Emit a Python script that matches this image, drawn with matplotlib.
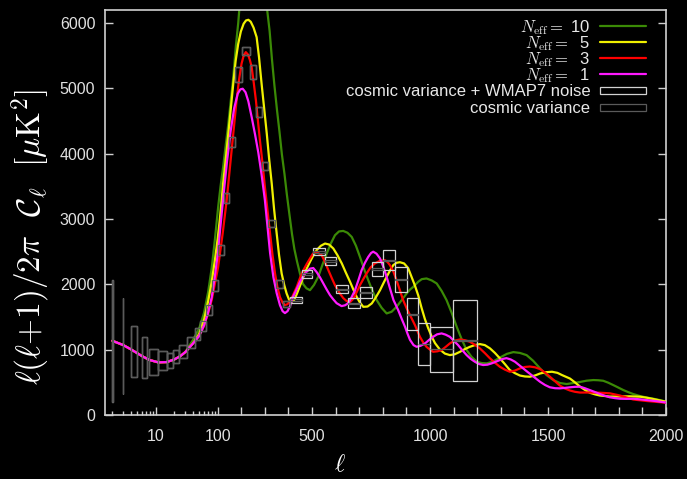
import numpy as np
import matplotlib
matplotlib.use("Agg")
import matplotlib.pyplot as plt
import matplotlib.patches as mpatches
from matplotlib.legend_handler import HandlerPatch
from matplotlib.ticker import FixedLocator, FixedFormatter

plt.rcParams["font.family"] = ["Liberation Sans", "DejaVu Sans"]
plt.rcParams["mathtext.fontset"] = "cm"

# low multipoles, where all four spectra coincide
LOW_ELL = [2, 3, 4, 6, 8, 11, 15, 20, 25, 30, 40, 50]
LOW_DL = [1136, 1070, 1004, 902, 841, 806, 810, 851, 902, 963, 1096, 1208]

# N_eff = 10
ELL_10 = [40, 50, 60, 70, 80, 90, 102, 112, 123, 134, 145, 155, 166, 177, 187,
          200, 215, 230, 248, 265, 280, 295, 310, 320, 330, 340, 351, 362, 372,
          383, 393, 404, 415, 425, 436, 449, 461, 476, 491, 508, 526, 544, 562,
          580, 597, 614, 632, 650, 668, 686, 703, 720, 738, 756, 774, 795, 816,
          837, 858, 880, 901, 915, 929, 950, 965, 985, 1007, 1028, 1049, 1070,
          1092, 1113, 1134, 1155, 1176, 1198, 1219, 1240, 1268, 1296, 1325, 1353,
          1381, 1409, 1437, 1466, 1494, 1522, 1550, 1579, 1607, 1635, 1663, 1692,
          1713, 1734, 1755, 1776, 1798, 1819, 1840, 1861, 1890, 1918, 1960, 2000]
DL_10 = [1150, 1320, 1560, 1880, 2250, 2680, 3185, 3500, 3797, 4130, 4460, 4800,
         5173, 5650, 6000, 6600, 6950, 7150, 7220, 7120, 6900, 6600, 6190, 5880,
         5443, 5060, 4679, 4330, 3991, 3690, 3379, 3070, 2767, 2540, 2354, 2160,
         2008, 1940, 1911, 1990, 2115, 2300, 2472, 2630, 2752, 2810, 2818, 2790,
         2726, 2590, 2420, 2240, 2064, 1900, 1758, 1640, 1555, 1580, 1656, 1760,
         1861, 1920, 1962, 2040, 2080, 2090, 2060, 2014, 1900, 1758, 1560, 1350,
         1160, 994, 890, 815, 795, 790, 820, 879, 935, 963, 950, 917, 830, 714,
         610, 535, 490, 474, 490, 505, 525, 535, 532, 524, 495, 459, 420, 382,
         350, 321, 290, 268, 240, 206]

# N_eff = 5
ELL_5 = [50, 60, 70, 80, 90, 100, 110, 123, 138, 152, 166, 176, 187, 198, 210,
         220, 230, 240, 252, 265, 275, 286, 297, 308, 318, 329, 339, 350, 360,
         371, 382, 392, 402, 413, 424, 435, 449, 463, 477, 491, 505, 519, 537,
         555, 572, 590, 607, 626, 643, 661, 675, 689, 703, 717, 735, 753, 770,
         788, 802, 816, 830, 844, 858, 872, 890, 907, 921, 936, 950, 964, 978,
         992, 1007, 1021, 1042, 1063, 1084, 1105, 1127, 1148, 1169, 1190, 1211,
         1232, 1254, 1275, 1296, 1317, 1338, 1360, 1381, 1402, 1423, 1445, 1466,
         1490, 1517, 1540, 1560, 1593, 1614, 1635, 1656, 1677, 1700, 1720, 1762,
         1805, 1847, 1890, 1918, 1946, 1975, 2000]
DL_5 = [1240, 1450, 1740, 2040, 2370, 2700, 3032, 3547, 4052, 4561, 5072, 5420,
        5683, 5870, 5990, 6040, 6050, 6020, 5930, 5784, 5480, 5072, 4690, 4307,
        3920, 3543, 3150, 2778, 2450, 2167, 1990, 1861, 1770, 1732, 1760, 1850,
        1980, 2115, 2240, 2344, 2440, 2523, 2590, 2625, 2610, 2549, 2450, 2320,
        2180, 2038, 1920, 1809, 1720, 1656, 1660, 1708, 1800, 1911, 2015, 2115,
        2210, 2294, 2330, 2339, 2320, 2250, 2120, 1980, 1830, 1640, 1470, 1330,
        1200, 1100, 1000, 940, 917, 930, 968, 1010, 1044, 1070, 1086, 1070, 1020,
        950, 867, 780, 688, 640, 604, 590, 586, 605, 635, 655, 662, 645, 610,
        558, 500, 436, 385, 341, 315, 298, 283, 283, 286, 280, 265, 245, 222, 203]

# N_eff = 3
ELL_3 = [60, 70, 80, 90, 102, 112, 121, 130, 138, 145, 152, 159, 166, 173, 180,
         190, 201, 210, 219, 228, 236, 244, 253, 262, 270, 279, 290, 300, 311,
         322, 332, 343, 353, 364, 375, 385, 395, 406, 420, 435, 449, 463, 477,
         491, 502, 512, 526, 541, 555, 569, 583, 597, 608, 618, 632, 646, 661,
         675, 689, 703, 717, 731, 748, 766, 787, 809, 820, 830, 844, 858, 872,
         886, 900, 915, 936, 957, 971, 985, 1000, 1013, 1031, 1049, 1067, 1084,
         1106, 1127, 1148, 1169, 1190, 1211, 1233, 1254, 1275, 1296, 1317, 1338,
         1360, 1381, 1402, 1423, 1445, 1466, 1487, 1508, 1530, 1550, 1572, 1593,
         1614, 1635, 1677, 1720, 1762, 1805, 1833, 1861, 1918, 1960, 2000]
DL_3 = [1361, 1555, 1758, 2010, 2268, 2530, 2778, 3040, 3286, 3540, 3797, 4050,
        4306, 4570, 4816, 5120, 5378, 5500, 5555, 5520, 5440, 5326, 5080, 4816,
        4520, 4205, 3850, 3491, 3130, 2778, 2460, 2166, 1960, 1804, 1720, 1682,
        1695, 1733, 1840, 1962, 2100, 2217, 2310, 2396, 2460, 2497, 2480, 2446,
        2340, 2217, 2100, 1988, 1920, 1860, 1790, 1745, 1728, 1780, 1880, 1988,
        2080, 2167, 2260, 2320, 2360, 2370, 2340, 2294, 2200, 2064, 1910, 1758,
        1640, 1529, 1376, 1197, 1110, 1044, 1000, 968, 975, 994, 1045, 1096,
        1140, 1157, 1145, 1121, 1075, 1020, 945, 867, 800, 738, 695, 662, 680,
        714, 735, 742, 730, 703, 650, 586, 515, 451, 405, 375, 355, 344, 344,
        341, 332, 298, 268, 237, 214, 200, 188]

# N_eff = 1
ELL_1 = [60, 70, 80, 90, 100, 112, 125, 140, 155, 170, 185, 196, 206, 218, 230,
         244, 258, 272, 286, 300, 311, 322, 336, 350, 364, 375, 385, 396, 406,
         418, 430, 449, 470, 491, 505, 519, 533, 548, 562, 576, 590, 604, 625,
         640, 653, 667, 682, 696, 710, 724, 738, 750, 759, 773, 788, 802, 816,
         830, 845, 865, 880, 894, 905, 915, 930, 943, 960, 979, 996, 1013, 1030,
         1049, 1066, 1084, 1100, 1119, 1137, 1155, 1172, 1190, 1208, 1225, 1243,
         1261, 1278, 1296, 1310, 1324, 1342, 1360, 1377, 1395, 1413, 1430, 1448,
         1466, 1487, 1508, 1530, 1550, 1572, 1593, 1614, 1635, 1656, 1677, 1700,
         1720, 1740, 1762, 1784, 1805, 1833, 1861, 1890, 1918, 1960, 2000]
DL_1 = [1370, 1570, 1800, 2120, 2460, 2900, 3380, 3900, 4350, 4700, 4920, 4985,
        4995, 4940, 4800, 4560, 4300, 4020, 3680, 3290, 2880, 2480, 2110, 1865,
        1680, 1590, 1560, 1590, 1660, 1800, 1890, 2040, 2170, 2240, 2250, 2190,
        2110, 2010, 1920, 1835, 1770, 1712, 1667, 1680, 1712, 1800, 1911, 2060,
        2217, 2330, 2420, 2480, 2500, 2470, 2396, 2270, 2115, 1940, 1760, 1605,
        1470, 1350, 1240, 1150, 1070, 1044, 1060, 1096, 1150, 1197, 1235, 1249,
        1230, 1197, 1140, 1070, 990, 917, 860, 815, 780, 765, 770, 790, 815, 841,
        860, 870, 850, 815, 765, 714, 660, 612, 560, 509, 460, 424, 410, 408,
        415, 424, 431, 433, 410, 382, 350, 321, 295, 271, 258, 249, 247, 249,
        240, 229, 212, 191]

# band powers: multipole range, cosmic variance + WMAP7 noise range,
# cosmic-variance-only range
BIN_LO = [1.99, 2.99, 3.95, 5.95, 7.9, 11.0, 15.4, 19.2, 24.0, 31.6, 43, 52, 65,
          80, 100, 125, 150, 173, 202, 237, 262, 286, 314, 348, 378, 406, 456,
          504, 555, 601, 652, 703, 752, 802, 851, 901, 950, 1000, 1098]
BIN_HI = [2.02, 3.02, 4.94, 7.16, 11.0, 15.4, 19.2, 24.0, 31.6, 43, 52, 65, 80,
          100, 125, 150, 173, 202, 237, 262, 286, 314, 343, 378, 406, 456, 498,
          555, 601, 652, 703, 752, 802, 851, 901, 950, 1000, 1098, 1199]
BOX_LO = [203, 316, 576, 561, 612, 688, 714, 790, 867, 1020, 1147, 1280, 1530,
          1900, 2450, 3250, 4100, 5100, 5505, 5148, 4561, 3746, 2879, 1950, 1650,
          1707, 2090, 2446, 2294, 1861, 1631, 1784, 2125, 2217, 1885, 1300, 765,
          662, 524]
BOX_HI = [2064, 1784, 1365, 1188, 1005, 983, 943, 994, 1070, 1197, 1330, 1440,
          1690, 2060, 2600, 3400, 4260, 5330, 5632, 5351, 4714, 3873, 2982, 2060,
          1740, 1809, 2217, 2549, 2420, 1988, 1784, 1957, 2344, 2523, 2268, 1784,
          1411, 1350, 1758]
CV_LO = BOX_LO[:25] + [1746, 2140, 2486, 2346, 1916, 1700, 1862, 2224, 2360,
                       2068, 1536, 1084, 1003, 1138]
CV_HI = BOX_HI[:25] + [1770, 2167, 2509, 2368, 1933, 1715, 1879, 2245, 2380,
                       2085, 1548, 1092, 1009, 1144]

LINE_LABELS = [r"$N_{\rm eff} = $ 10", r"$N_{\rm eff} = $  5",
               r"$N_{\rm eff} = $  3", r"$N_{\rm eff} = $  1"]
BOX_LABELS = ["cosmic variance + WMAP7 noise", "cosmic variance"]
COLORS = ["#3b8a06", "#f0f000", "#ff0000", "#ff1aff"]

XTICKS = [10, 100, 200, 300, 400, 500, 600, 700, 800, 900, 1000, 1100, 1200,
          1300, 1400, 1500, 1600, 1700, 1800, 1900, 2000]
XTICK_LABELS = ["10", "100", "", "", "", "500", "", "", "", "", "1000", "", "",
                "", "", "1500", "", "", "", "", "2000"]
XMINOR = [2, 3, 4, 5, 6, 7, 8, 9, 20, 30, 40, 50, 60, 70, 80, 90]

# logarithmic up to l = 100, linear above
K = 0.236 / 62


def fwd(x):
    x = np.asarray(x, dtype=float)
    lg = np.log10(np.clip(x, 1e-3, None))
    return np.where(x <= 100, lg, 2 + (x - 100) * K)


def inv(y):
    y = np.asarray(y, dtype=float)
    return np.where(y <= 2, 10 ** np.clip(y, -3, 2), 100 + (y - 2) / K)


def flat_box(legend, orig_handle, xdescent, ydescent, width, height, fontsize):
    return mpatches.Rectangle((-xdescent, -ydescent + 0.2 * height), width, 0.6 * height)


fg = "#d0d0d0"
fig = plt.figure(figsize=(6.87, 4.79), dpi=100, facecolor="black")
ax = fig.add_axes([105 / 687, 64 / 479, 561 / 687, 405 / 479], facecolor="black")
ax.set_xscale("function", functions=(fwd, inv))

curves = [(ELL_10, DL_10), (ELL_5, DL_5), (ELL_3, DL_3), (ELL_1, DL_1)]
line_handles = []
for i, (ell, dl) in enumerate(curves):
    n = sum(1 for e in LOW_ELL if e < ell[0])
    x = LOW_ELL[:n] + ell
    y = LOW_DL[:n] + dl
    ln, = ax.plot(x, y, color=COLORS[i], lw=1.6, solid_capstyle="round", zorder=2 + i)
    line_handles.append(ln)

bin_lo = np.array(BIN_LO)
bin_w = np.array(BIN_HI) - bin_lo
noise = ax.bar(bin_lo, np.array(BOX_HI) - np.array(BOX_LO), width=bin_w,
               bottom=BOX_LO, align="edge", fill=False, edgecolor="#d2d2d2",
               linewidth=0.9, zorder=7)
cv = ax.bar(bin_lo, np.array(CV_HI) - np.array(CV_LO), width=bin_w,
            bottom=CV_LO, align="edge", fill=False, edgecolor="#5a5a5a",
            linewidth=0.9, zorder=8)

ax.set_xlim(1.52, 2000)
ax.set_ylim(0, 6200)

ax.xaxis.set_major_locator(FixedLocator(XTICKS))
ax.xaxis.set_major_formatter(FixedFormatter(XTICK_LABELS))
ax.xaxis.set_minor_locator(FixedLocator(XMINOR))
ax.set_yticks([0, 1000, 2000, 3000, 4000, 5000, 6000])

for s in ax.spines.values():
    s.set_color(fg)
    s.set_linewidth(1.2)
ax.tick_params(which="both", direction="in", color=fg, width=1.0,
               right=True, top=False, labelsize=11.5, labelcolor="#e0e0e0")
ax.tick_params(which="major", length=6)
ax.tick_params(which="minor", length=3)
ax.tick_params(axis="x", pad=10)
ax.tick_params(axis="y", pad=7)

ax.set_ylabel(r"$\ell(\ell{+}1)/2\pi\ \ \mathcal{C}_\ell\ \ [\mu\mathrm{K}^2]$",
              color="white", fontsize=24)
ax.yaxis.set_label_coords(-0.093, 0.44)
ax.set_xlabel(r"$\ell$", color="white", fontsize=18)
ax.xaxis.set_label_coords(0.419, -0.091)

leg_kw = dict(frameon=False, markerfirst=False, fontsize=12, handlelength=2.75,
              handletextpad=0.6, borderaxespad=0.0, borderpad=0.0,
              labelcolor="#e8e8e8", loc="upper right")
leg1 = ax.legend(line_handles, LINE_LABELS, bbox_to_anchor=(0.9643, 0.981),
                 labelspacing=-0.16, **leg_kw)
ax.add_artist(leg1)
ax.legend([noise.patches[0], cv.patches[0]], BOX_LABELS,
          bbox_to_anchor=(0.9643, 0.817), labelspacing=0.12,
          handler_map={mpatches.Rectangle: HandlerPatch(patch_func=flat_box)},
          **leg_kw)

fig.savefig("out.png", dpi=100, facecolor="black")
